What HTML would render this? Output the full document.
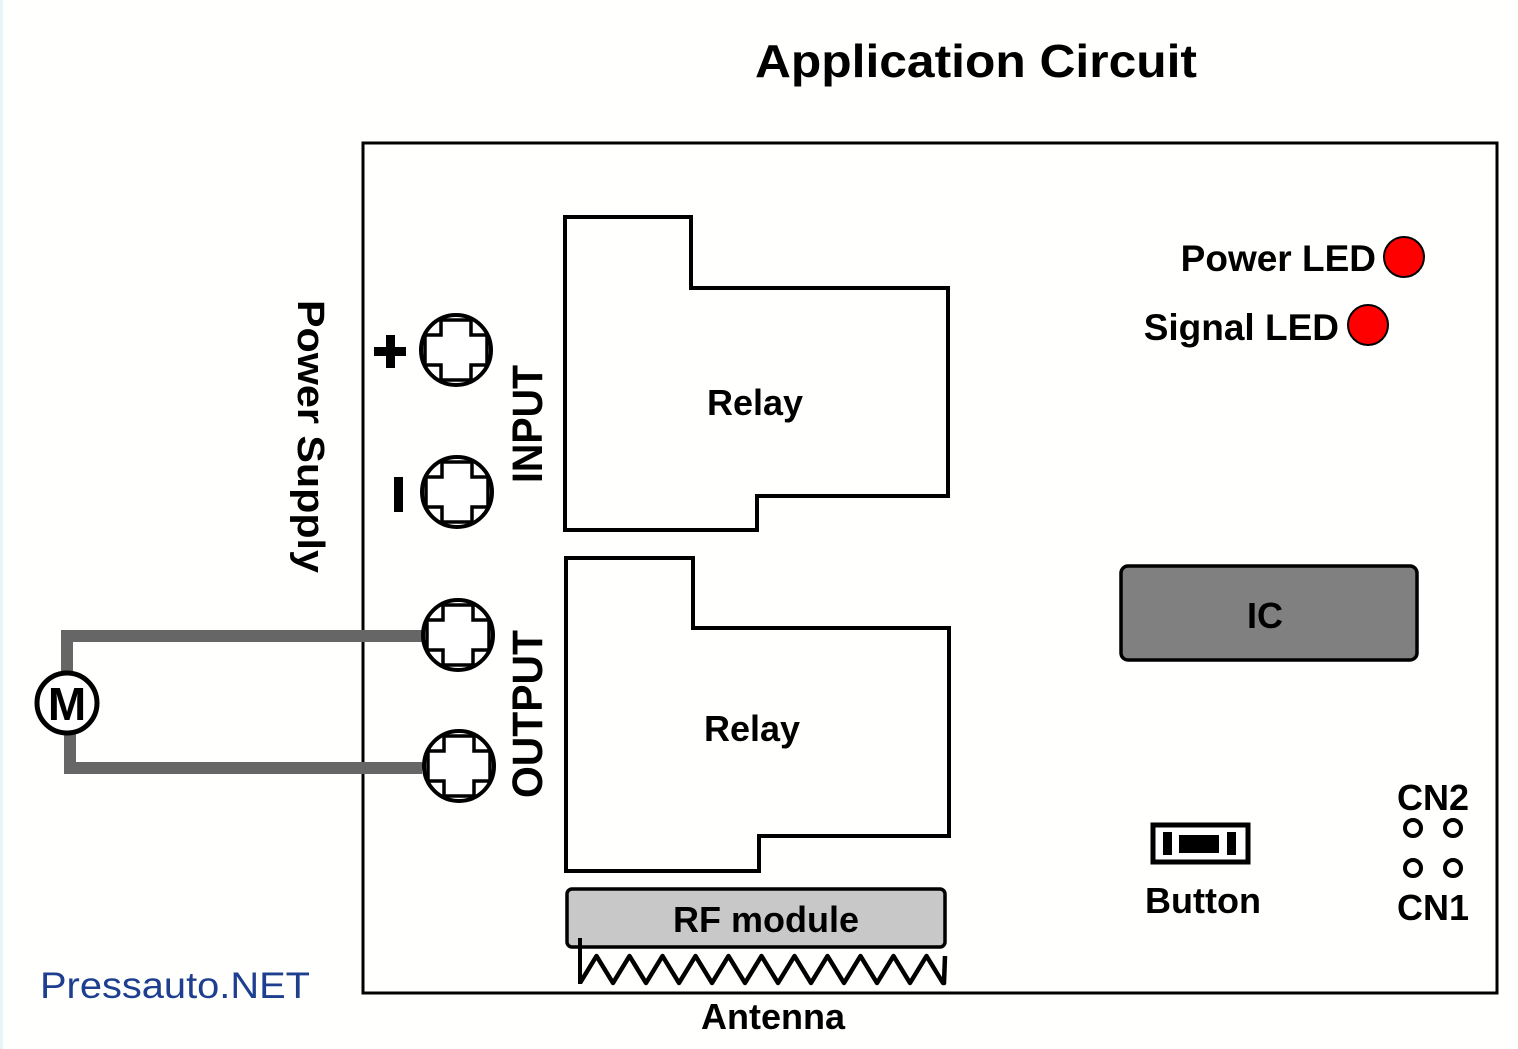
<!DOCTYPE html>
<html><head><meta charset="utf-8"><style>
html,body{margin:0;padding:0;background:#fff;}
svg{display:block;font-family:"Liberation Sans",Arial,sans-serif;font-weight:bold;}
</style></head><body>
<svg width="1518" height="1049" viewBox="0 0 1518 1049" xmlns="http://www.w3.org/2000/svg">
<rect x="0" y="0" width="1518" height="1049" fill="#fffffd"/>
<line x1="1.5" y1="0" x2="1.5" y2="1049" stroke="#e6f6f8" stroke-width="3"/>
<text x="976" y="77" font-size="46" text-anchor="middle" fill="#000" textLength="442" lengthAdjust="spacingAndGlyphs">Application Circuit</text>
<rect x="363" y="143" width="1134" height="850" fill="none" stroke="#000" stroke-width="3"/>
<polyline points="67,672 67,636 422,636" fill="none" stroke="#666" stroke-width="12"/>
<polyline points="70,734 70,768 422,768" fill="none" stroke="#666" stroke-width="12"/>
<circle cx="67" cy="703" r="30" fill="#fff" stroke="#000" stroke-width="5"/>
<text x="67" y="720" font-size="46" text-anchor="middle">M</text>
<defs>
<g id="term">
<circle cx="0" cy="0" r="35" fill="#fff" stroke="#000" stroke-width="4"/>
<polygon points="-15,-30 15,-30 15,-15 31,-15 31,15 15,15 15,30 -15,30 -15,15 -31,15 -31,-15 -15,-15" fill="none" stroke="#000" stroke-width="3.5"/>
</g>
</defs>
<use href="#term" x="456" y="350"/>
<use href="#term" x="457" y="492"/>
<use href="#term" x="458" y="635"/>
<use href="#term" x="459" y="766"/>
<rect x="374" y="347" width="32" height="9" fill="#000"/>
<rect x="386" y="335" width="9" height="33" fill="#000"/>
<rect x="394" y="477" width="9" height="35" fill="#000"/>
<text transform="translate(298,300) rotate(90)" font-size="38" textLength="273" lengthAdjust="spacingAndGlyphs">Power Supply</text>
<text transform="translate(542,483) rotate(-90)" font-size="43" textLength="118" lengthAdjust="spacingAndGlyphs">INPUT</text>
<text transform="translate(542,798) rotate(-90)" font-size="43" textLength="168" lengthAdjust="spacingAndGlyphs">OUTPUT</text>
<polygon points="565,217 691,217 691,288 948,288 948,496 757,496 757,530 565,530" fill="none" stroke="#000" stroke-width="4"/>
<polygon points="566,558 693,558 693,628 949,628 949,836 759,836 759,871 566,871" fill="none" stroke="#000" stroke-width="4"/>
<text x="755" y="415" font-size="36" text-anchor="middle">Relay</text>
<text x="752" y="741" font-size="36" text-anchor="middle">Relay</text>
<rect x="567" y="889" width="378" height="58" rx="5" fill="#c8c8c8" stroke="#000" stroke-width="3.5"/>
<text x="766" y="932" font-size="36" text-anchor="middle">RF module</text>
<line x1="580" y1="938" x2="580" y2="984" stroke="#000" stroke-width="4"/>
<polyline points="580,983 596.5,956 613,983 629.5,956 646,983 662.5,956 679,983 695.5,956 712,983 728.5,956 745,983 761.5,956 778,983 794.5,956 811,983 827.5,956 844,983 860.5,956 877,983 893.5,956 910,983 926.5,956 943,983 944,983 945,956" fill="none" stroke="#000" stroke-width="4.5" stroke-linejoin="round"/>
<text x="773" y="1029" font-size="36" text-anchor="middle">Antenna</text>
<text x="1376" y="271" font-size="37" text-anchor="end">Power LED</text>
<circle cx="1404" cy="257" r="20" fill="#f00" stroke="#000" stroke-width="2"/>
<text x="1339" y="340" font-size="37" text-anchor="end">Signal LED</text>
<circle cx="1368" cy="325" r="20" fill="#f00" stroke="#000" stroke-width="2"/>
<rect x="1121" y="566" width="296" height="94" rx="7" fill="#808080" stroke="#000" stroke-width="3.5"/>
<text x="1265" y="628" font-size="36" text-anchor="middle">IC</text>
<rect x="1153" y="825" width="95" height="37" fill="#fff" stroke="#000" stroke-width="5"/>
<rect x="1163" y="832" width="9" height="23" fill="#000"/>
<rect x="1179" y="835" width="40" height="18" fill="#000"/>
<rect x="1227" y="832" width="9" height="23" fill="#000"/>
<text x="1203" y="913" font-size="36" text-anchor="middle">Button</text>
<text x="1433" y="810" font-size="36" text-anchor="middle">CN2</text>
<circle cx="1413" cy="828" r="8" fill="none" stroke="#000" stroke-width="4"/>
<circle cx="1453" cy="828" r="8" fill="none" stroke="#000" stroke-width="4"/>
<circle cx="1413" cy="868" r="8" fill="none" stroke="#000" stroke-width="4"/>
<circle cx="1453" cy="868" r="8" fill="none" stroke="#000" stroke-width="4"/>
<text x="1433" y="920" font-size="36" text-anchor="middle">CN1</text>
<text x="40" y="998" font-size="37" font-weight="normal" fill="#1e3f8f" textLength="270" lengthAdjust="spacingAndGlyphs">Pressauto.NET</text>
</svg>
</body></html>
